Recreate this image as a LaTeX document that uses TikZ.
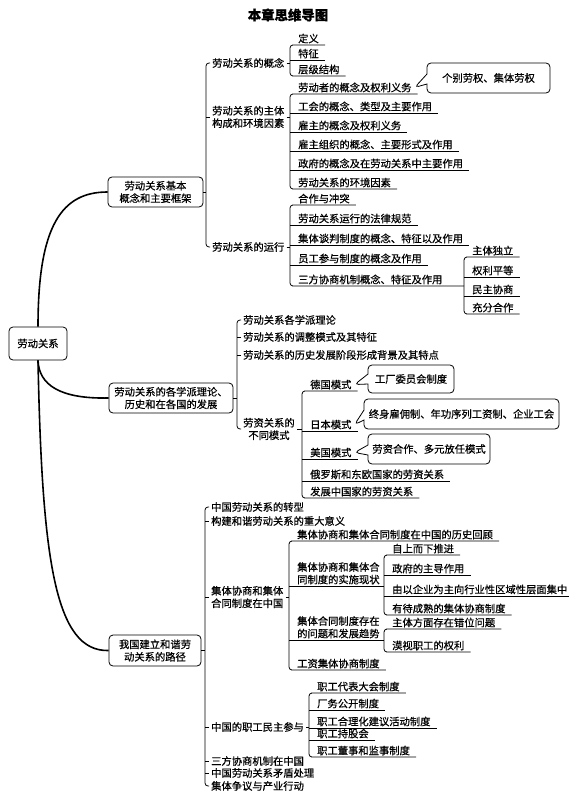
\documentclass[tikz,border=0pt]{standalone}
\usepackage{fontspec}
\setmainfont{Noto Sans CJK SC}[FakeBold=0.6]
\usetikzlibrary{shapes.callouts}

\begin{document}
\begin{tikzpicture}[x=1pt,y=-1pt,
  wz/.style={font=\fontsize{10.3}{12.5}\selectfont},
  box/.style={wz,draw,rounded corners=4pt,align=center,line width=0.8pt,minimum height=30pt,inner xsep=4pt},
  sect/.style={wz,anchor=west,inner xsep=2pt,inner ysep=1pt,align=center},
  leaf/.style={wz,anchor=south west,inner xsep=3pt,inner ysep=1.5pt,align=left},
  bubble/.style={wz,rectangle callout,draw,rounded corners=4pt,line width=0.8pt,minimum height=30pt,callout pointer width=10pt},
  brk/.style={line width=0.8pt,rounded corners=3pt},
  trunk/.style={line width=1.6pt}]
  \useasboundingbox (0,0) rectangle (569,794);

  \node[font=\bfseries\fontsize{13.4}{15}\selectfont] (title) at (288,15) {本章思维导图};

  \node[box,minimum width=58pt,minimum height=33pt] (root) at (38,343.5) {劳动关系};
  \node[box,minimum width=95pt] (b1) at (155.5,192) {劳动关系基本\\概念和主要框架};
  \node[box,minimum width=124pt] (b2) at (171,398) {劳动关系的各学派理论、\\历史和在各国的发展};
  \node[box,minimum width=92pt,minimum height=31pt] (b3) at (155,650.5) {我国建立和谐劳\\动关系的路径};

  \draw[trunk] (root.north) .. controls (38,225) and (62,192) .. (b1.west);
  \draw[trunk] (root.south) .. controls (39,385) and (60,399) .. (b2.west);
  \draw[trunk] (root.south) .. controls (42,560) and (55,652) .. (b3.west);

  \coordinate (k1) at (206,0);
  \coordinate (k2) at (237,0);
  \coordinate (k3) at (205,0);
  \coordinate (k11) at (290,0);
  \coordinate (k12) at (290,0);
  \coordinate (k13) at (290,0);
  \coordinate (k14) at (464,0);
  \coordinate (k22) at (302,0);
  \coordinate (k32) at (289,0);
  \coordinate (k33) at (384,0);
  \coordinate (k34) at (384,0);
  \coordinate (k35) at (309,0);

  % branch 1
  \node[sect] (gn) at (210,63) {劳动关系的概念};
  \node[sect] (zt) at (210,117) {劳动关系的主体\\构成和环境因素};
  \node[sect] (yx) at (210,247) {劳动关系的运行};
  \draw[brk] (b1.east) -- (b1.east -| k1);
  \draw[brk] (gn.west) -- ++(-4,0) |- (yx.west);
  \draw[brk] (zt.west) -- ++(-4,0);
  \draw[brk] (gn.east) -- (gn.east -| k11);
  \draw[brk] (zt.east) -- (zt.east -| k12);
  \draw[brk] (yx.east) -- (yx.east -| k13);

  \node[leaf] (dy) at (295,45) {定义};
  \node[leaf] (tz) at (295,60) {特征};
  \node[leaf] (cj) at (295,76) {层级结构};
  \draw[brk] ([xshift=3pt]dy.south east) -- (dy.south west) -- ++(-5,0) |- (cj.south west) -- ([xshift=3pt]cj.south east);
  \draw[brk] (tz.south west) ++(-5,0) -- ([xshift=3pt]tz.south east);

  \node[leaf] (ldz) at (295,94) {劳动者的概念及权利义务};
  \node[leaf] (gh) at (295,113) {工会的概念、类型及主要作用};
  \node[leaf] (gz) at (295,132) {雇主的概念及权利义务};
  \node[leaf] (gzz) at (295,151) {雇主组织的概念、主要形式及作用};
  \node[leaf] (zf) at (295,170) {政府的概念及在劳动关系中主要作用};
  \node[leaf] (hj) at (295,189) {劳动关系的环境因素};
  \draw[brk] ([xshift=3pt]ldz.south east) -- (ldz.south west) -- ++(-5,0) |- (hj.south west) -- ([xshift=3pt]hj.south east);
  \foreach \n in {gh,gz,gzz,zf}
    \draw[brk] (\n.south west) ++(-5,0) -- ([xshift=3pt]\n.south east);
  \node[bubble,minimum width=123pt,callout absolute pointer={(ldz.east)}] (gb) at (488.5,78) {个别劳权、集体劳权};

  \node[leaf] (hz) at (295,205) {合作与冲突};
  \node[leaf] (fl) at (295,225) {劳动关系运行的法律规范};
  \node[leaf] (tp) at (295,245) {集体谈判制度的概念、特征以及作用};
  \node[leaf] (yg) at (295,265) {员工参与制度的概念及作用};
  \node[leaf] (sf) at (295,286) {三方协商机制概念、特征及作用};
  \draw[brk] ([xshift=3pt]hz.south east) -- (hz.south west) -- ++(-5,0) |- (sf.south west) -- (sf.south west -| k14);
  \foreach \n in {fl,tp,yg}
    \draw[brk] (\n.south west) ++(-5,0) -- ([xshift=3pt]\n.south east);

  \node[leaf] (zd) at (469,257) {主体独立};
  \node[leaf] (ql) at (469,277) {权利平等};
  \node[leaf] (mz) at (469,296) {民主协商};
  \node[leaf] (fh) at (469,314) {充分合作};
  \draw[brk] ([xshift=3pt]zd.south east) -- (zd.south west) -- ++(-5,0) |- (fh.south west) -- ([xshift=3pt]fh.south east);
  \foreach \n in {ql,mz}
    \draw[brk] (\n.south west) ++(-5,0) -- ([xshift=3pt]\n.south east);

  % branch 2
  \node[sect] (xp) at (241,320) {劳动关系各学派理论};
  \node[sect] (tm) at (241,337) {劳动关系的调整模式及其特征};
  \node[sect] (ls) at (241,355) {劳动关系的历史发展阶段形成背景及其特点};
  \node[sect] (lz) at (241,429) {劳资关系的\\不同模式};
  \draw[brk] (b2.east) -- (b2.east -| k2);
  \draw[brk] (xp.west) -- ++(-4,0) |- (lz.west);
  \foreach \n in {tm,ls}
    \draw[brk] (\n.west) -- ++(-4,0);
  \draw[brk] (lz.east) -- (lz.east -| k22);

  \node[leaf] (dg) at (307,391) {德国模式};
  \node[leaf] (rb) at (307,431) {日本模式};
  \node[leaf] (mg) at (307,459) {美国模式};
  \node[leaf] (elz) at (307,481) {俄罗斯和东欧国家的劳资关系};
  \node[leaf] (fz) at (307,498) {发展中国家的劳资关系};
  \draw[brk] ([xshift=3pt]dg.south east) -- (dg.south west) -- ++(-5,0) |- (fz.south west) -- ([xshift=3pt]fz.south east);
  \foreach \n in {rb,mg,elz}
    \draw[brk] (\n.south west) ++(-5,0) -- ([xshift=3pt]\n.south east);
  \node[bubble,minimum width=86pt,minimum height=28pt,callout absolute pointer={(dg.east)}] (gc) at (411,379) {工厂委员会制度};
  \node[bubble,minimum width=195pt,callout absolute pointer={(rb.east)}] (zsgy) at (461.5,414) {终身雇佣制、年功序列工资制、企业工会};
  \node[bubble,minimum width=122pt,callout absolute pointer={(mg.east)}] (lh) at (429,449) {劳资合作、多元放任模式};

  % branch 3
  \node[sect] (zx) at (209,507) {中国劳动关系的转型};
  \node[sect] (gj) at (209,521) {构建和谐劳动关系的重大意义};
  \node[sect] (jx) at (209,597) {集体协商和集体\\合同制度在中国};
  \node[sect] (mc) at (209,727) {中国的职工民主参与};
  \node[sect] (sx) at (209,761) {三方协商机制在中国};
  \node[sect] (md) at (209,773) {中国劳动关系矛盾处理};
  \node[sect] (zy) at (209,786) {集体争议与产业行动};
  \draw[brk] (b3.east) -- (b3.east -| k3);
  \draw[brk] (zx.west) -- ++(-4,0) |- (zy.west);
  \foreach \n in {gj,jx,mc,sx,md}
    \draw[brk] (\n.west) -- ++(-4,0);
  \draw[brk] (jx.east) -- (jx.east -| k32);
  \draw[brk] (mc.east) -- (mc.east -| k35);

  \node[leaf] (hg) at (294,541) {集体协商和集体合同制度在中国的历史回顾};
  \node[leaf] (sz) at (294,586) {集体协商和集体合\\同制度的实施现状};
  \node[leaf] (wt) at (294,640) {集体合同制度存在\\的问题和发展趋势};
  \node[leaf] (gzx) at (294,670) {工资集体协商制度};
  \draw[brk] ([xshift=3pt]hg.south east) -- (hg.south west) -- ++(-5,0) |- (gzx.south west) -- ([xshift=3pt]gzx.south east);
  \draw[brk] (sz.south west) ++(-5,0) -- (sz.south west -| k33);
  \draw[brk] (wt.south west) ++(-5,0) -- (wt.south west -| k34);

  \node[leaf] (zsx) at (389,555) {自上而下推进};
  \node[leaf] (zdzy) at (389,575) {政府的主导作用};
  \node[leaf] (yqy) at (389,596) {由以企业为主向行业性区域性层面集中};
  \node[leaf] (ydcs) at (389,615) {有待成熟的集体协商制度};
  \draw[brk] ([xshift=3pt]zsx.south east) -- (zsx.south west) -- ++(-5,0) |- (ydcs.south west) -- ([xshift=3pt]ydcs.south east);
  \foreach \n in {zdzy,yqy}
    \draw[brk] (\n.south west) ++(-5,0) -- ([xshift=3pt]\n.south east);

  \node[leaf] (cw) at (389,629) {主体方面存在错位问题};
  \node[leaf] (ms) at (389,652) {漠视职工的权利};
  \draw[brk] ([xshift=3pt]cw.south east) -- (cw.south west) -- ++(-5,0) |- (ms.south west) -- ([xshift=3pt]ms.south east);

  \node[leaf] (db) at (314,693) {职工代表大会制度};
  \node[leaf] (cwgk) at (314,710) {厂务公开制度};
  \node[leaf] (hl) at (314,728) {职工合理化建议活动制度};
  \node[leaf] (cg) at (314,740) {职工持股会};
  \node[leaf] (ds) at (314,757) {职工董事和监事制度};
  \draw[brk] ([xshift=3pt]db.south east) -- (db.south west) -- ++(-5,0) |- (ds.south west) -- ([xshift=3pt]ds.south east);
  \foreach \n in {cwgk,hl,cg}
    \draw[brk] (\n.south west) ++(-5,0) -- ([xshift=3pt]\n.south east);
\end{tikzpicture}
\end{document}
